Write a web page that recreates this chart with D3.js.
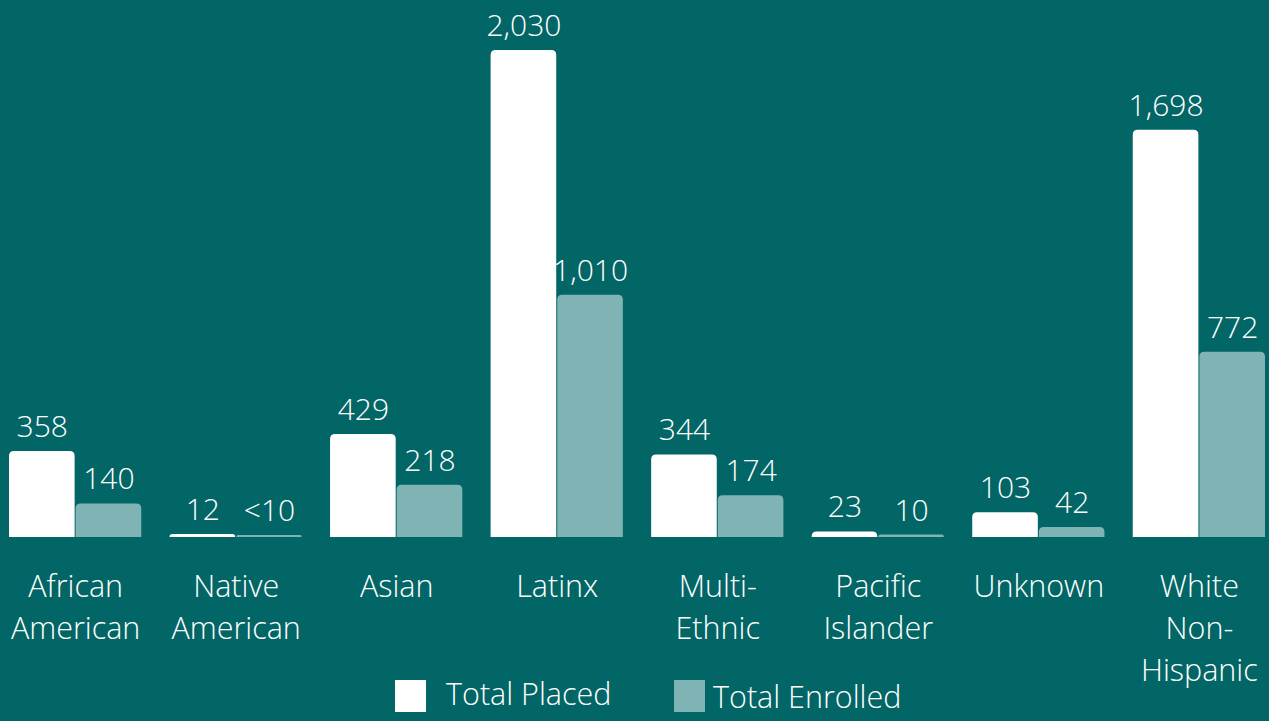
<!DOCTYPE html>
<html>
<head>
  <meta charset="utf-8">
  <title>Placed vs Enrolled</title>
  <script src="https://cdnjs.cloudflare.com/ajax/libs/d3/7.8.5/d3.min.js"></script>
</head>
<style>
  body { margin: 0; background: #036666; }
  svg { display: block; }
  text { font-family: "Open Sans", sans-serif; font-weight: 300; fill: #fff; }
</style>
<body>
<svg id="svg" width="1269" height="721"></svg>
<script type="text/javascript">
const categories = [
  ['African', 'American'],
  ['Native', 'American'],
  ['Asian'],
  ['Latinx'],
  ['Multi-', 'Ethnic'],
  ['Pacific', 'Islander'],
  ['Unknown'],
  ['White', 'Non-', 'Hispanic']
];
const placed = [358, 12, 429, 2030, 344, 23, 103, 1698];
const enrolled = [140, 8, 218, 1010, 174, 10, 42, 772];
const placedLabels = ['358', '12', '429', '2,030', '344', '23', '103', '1,698'];
const enrolledLabels = ['140', '<10', '218', '1,010', '174', '10', '42', '772'];
const seriesNames = ['Total Placed', 'Total Enrolled'];
const colors = ['#ffffff', '#80b3b3'];

const svg = d3.select('#svg');
const baseY = 537;
const keys = categories.map((c, i) => i);

const x = d3.scaleBand().domain(keys).range([9, 1266]).paddingInner(0.17).paddingOuter(0);
const xs = d3.scaleBand().domain([0, 1]).range([0, x.bandwidth()]);
const y = d3.scaleLinear().domain([0, 2030]).range([baseY, 50]);

// rect with rounded top corners only
function topRounded(x0, w, yTop, r) {
  const h = baseY - yTop;
  r = Math.min(r, h, w / 2);
  return `M${x0},${baseY}V${yTop + r}Q${x0},${yTop} ${x0 + r},${yTop}H${x0 + w - r}` +
    `Q${x0 + w},${yTop} ${x0 + w},${yTop + r}V${baseY}Z`;
}

const rows = keys.map(i => [
  { s: 0, v: placed[i], label: placedLabels[i] },
  { s: 1, v: enrolled[i], label: enrolledLabels[i] }
]);

const g = svg.selectAll('g.grp').data(rows).enter().append('g')
  .attr('class', 'grp')
  .attr('transform', (d, i) => `translate(${x(i)},0)`);

g.selectAll('path').data(d => d).enter().append('path')
  .attr('d', d => topRounded(xs(d.s), xs.bandwidth() - 1, y(d.v), 5))
  .style('fill', d => colors[d.s]);

g.selectAll('text.val').data(d => d).enter().append('text')
  .attr('class', 'val')
  .attr('x', d => xs(d.s) + xs.bandwidth() / 2)
  .attr('y', d => y(d.v) - 14)
  .attr('text-anchor', 'middle')
  .style('font-size', '30px')
  .text(d => d.label);

// category labels
svg.selectAll('text.cat').data(categories).enter().append('text')
  .attr('class', 'cat')
  .attr('text-anchor', 'middle')
  .style('font-size', '30.5px')
  .each(function (lines, i) {
    const t = d3.select(this);
    lines.forEach((ln, j) => {
      t.append('tspan')
        .attr('x', x(i) + x.bandwidth() / 2)
        .attr('y', 597 + j * 42)
        .text(ln);
    });
  });

// legend
const legX = [395, 674];
const leg = svg.selectAll('g.leg').data(seriesNames).enter().append('g')
  .attr('class', 'leg')
  .attr('transform', (d, i) => `translate(${legX[i]},680)`);
leg.append('rect').attr('width', 31).attr('height', 32).style('fill', (d, i) => colors[i]);
leg.append('text')
  .attr('x', (d, i) => i === 0 ? 51 : 39)
  .attr('y', (d, i) => i === 0 ? 25 : 28)
  .style('font-size', '30.5px')
  .text(d => d);
</script>
</body>
</html>
